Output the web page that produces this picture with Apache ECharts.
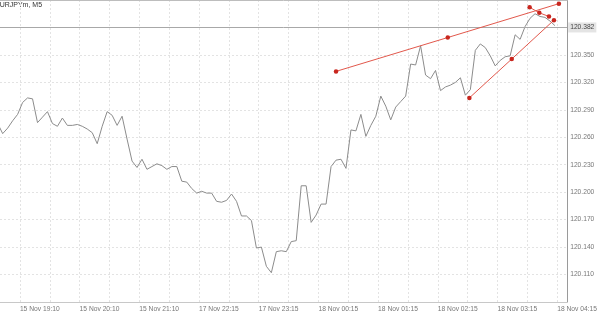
<!DOCTYPE html>
<html><head><meta charset="utf-8">
<script src="https://cdn.jsdelivr.net/npm/echarts@6/dist/echarts.min.js"></script>
<style>html,body{margin:0;padding:0;background:#fff}#c{width:600px;height:315px}</style>
</head><body><div id="c"></div>
<script>
// Symbol / title
const titleText = 'EURJPYm, M5';
// Time-axis tick labels (every 12 bars, starting at bar 4)
const timeLabels = ['15 Nov 19:10','15 Nov 20:10','15 Nov 21:10','17 Nov 22:15','17 Nov 23:15','18 Nov 00:15','18 Nov 01:15','18 Nov 02:15','18 Nov 03:15','18 Nov 04:15'];
const labelStart = 4, labelStep = 12, gridStep = 6, barCount = 115;
// Close prices, one per M5 bar
const prices = [
120.275,120.264,120.270,120.278,120.285,120.298,120.303,120.302,120.276,120.282,
120.288,120.275,120.272,120.281,120.273,120.273,120.274,120.272,120.269,120.265,
120.253,120.272,120.288,120.284,120.273,120.283,120.258,120.234,120.227,120.236,
120.225,120.228,120.231,120.229,120.225,120.228,120.228,120.212,120.211,120.204,
120.199,120.201,120.199,120.199,120.190,120.189,120.191,120.198,120.190,120.174,
120.174,120.169,120.139,120.140,120.119,120.112,120.135,120.136,120.135,120.146,
120.147,120.207,120.207,120.167,120.175,120.187,120.187,120.228,120.235,120.236,
120.226,120.268,120.267,120.285,120.261,120.273,120.283,120.305,120.294,120.279,
120.293,120.299,120.305,120.340,120.339,120.360,120.328,120.324,120.333,120.311,
120.315,120.317,120.320,120.325,120.306,120.312,120.355,120.362,120.358,120.349,
120.338,120.344,120.348,120.349,120.372,120.367,120.381,120.390,120.395,120.392,
120.391,120.387,120.382];
const currentPrice = 120.382;
// Trend lines: [barPosition, price] for start, middle, end handles
const trendUpper = [[68.0,120.332],[90.46,120.369],[112.8,120.406]];
const trendLower = [[94.8,120.303],[103.32,120.3455],[111.8,120.388]];
const trendShort = [[106.92,120.402],[108.86,120.396],[110.8,120.392]];
// Price axis
const yMin = 120.08, yMax = 120.41, yStep = 0.03;
const xShift = 0.46;

const categories = [];
for (let i = 0; i < barCount; i++) {
  const k = i - labelStart;
  categories.push(k >= 0 && k % labelStep === 0 ? (timeLabels[k / labelStep] || '') : '');
}

const font = '"Liberation Sans", Arial, sans-serif';
const chart = echarts.init(document.getElementById('c'), null, {renderer: 'canvas'});
const trendSeries = (d) => ({
  type: 'line', xAxisIndex: 1, data: d, symbol: 'circle', symbolSize: 4.5,
  showSymbol: true, clip: false, silent: true, animation: false,
  itemStyle: {color: '#c8261e'}, lineStyle: {color: '#e2584c', width: 1}, z: 5
});
chart.setOption({
  animation: false,
  backgroundColor: '#fff',
  graphic: [{type: 'text', x: -5, y: 2, silent: true,
    style: {text: titleText, fontSize: 7, fontFamily: font, fill: '#333', textVerticalAlign: 'top'}}],
  grid: {left: 0, right: 30, top: 0, bottom: 13},
  xAxis: [{
    type: 'category', data: categories, boundaryGap: false,
    axisLine: {show: true, lineStyle: {color: '#c8c8c8', width: 1}},
    axisTick: {show: false},
    axisLabel: {interval: (i) => (i - labelStart) % labelStep === 0 && i >= labelStart, align: 'left',
      fontSize: 6.7, color: '#777', margin: 4, fontFamily: font, showMaxLabel: true},
    splitLine: {show: true, interval: (i) => (i - labelStart) % gridStep === 0 && i >= labelStart,
      lineStyle: {color: '#e3e3e3', type: [2, 2], width: 1}}
  }, {
    type: 'value', min: xShift, max: xShift + barCount - 1, position: 'top',
    axisLine: {show: true, lineStyle: {color: '#bdbdbd'}}, axisTick: {show: false},
    axisLabel: {show: false}, splitLine: {show: false}
  }],
  yAxis: {
    type: 'value', position: 'right', min: yMin, max: yMax, interval: yStep,
    axisLine: {show: true, lineStyle: {color: '#9a9a9a'}},
    axisTick: {show: false},
    axisLabel: {fontSize: 6.7, color: '#777', margin: 3, fontFamily: font, showMinLabel: false, showMaxLabel: false,
      formatter: (v) => Math.abs(v - 120.38) < 1e-6 ? '' : v.toFixed(3)},
    splitLine: {show: true, lineStyle: {color: '#e3e3e3', type: [2, 2], width: 1}}
  },
  series: [{
    type: 'line', xAxisIndex: 1, data: prices.map((v, i) => [i, v]),
    showSymbol: false, symbol: 'none', silent: true,
    lineStyle: {color: '#8c8c8c', width: 1},
    markLine: {
      symbol: 'none', silent: true, animation: false,
      lineStyle: {color: '#a8a8a8', type: 'solid', width: 1},
      data: [{yAxis: currentPrice}],
      label: {position: 'end', distance: 1, formatter: currentPrice.toFixed(3), backgroundColor: '#e4e4e4',
        color: '#444', fontSize: 6.7, padding: [2, 2, 1, 2], fontFamily: font}
    }, z: 3
  }, trendSeries(trendUpper), trendSeries(trendLower), trendSeries(trendShort)]
});
</script></body></html>
